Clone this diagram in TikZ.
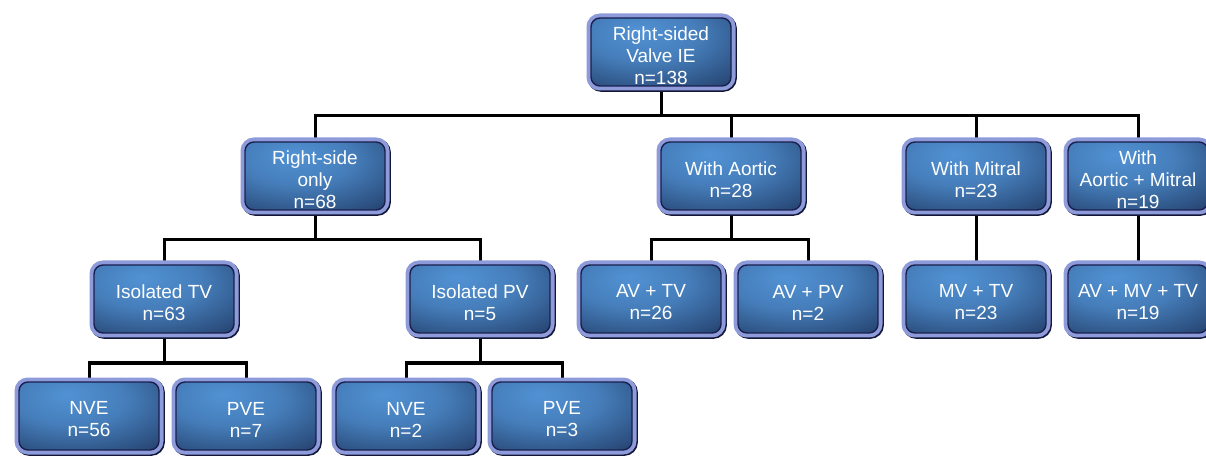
\documentclass[tikz,border=0pt]{standalone}
\usepackage{fontspec}
\setmainfont{Liberation Sans}
\usetikzlibrary{backgrounds}
\definecolor{frame}{HTML}{8E9BDB}
\definecolor{navy}{HTML}{1B1F4E}
\definecolor{hl}{HTML}{5192D4}
\definecolor{dk}{HTML}{172A50}
\pgfdeclareradialshading{boxshade}{\pgfpoint{-8bp}{16bp}}{color(0bp)=(hl);color(20bp)=(hl!80!dk);color(55bp)=(dk);color(100bp)=(dk)}
\tikzset{
  box/.style={rounded corners=9pt, minimum width=140pt, minimum height=68pt, inner sep=0pt,
    shade, shading=boxshade, draw=navy, line width=1.4pt,
    preaction={draw=navy!70!black, line width=9pt, transform canvas={shift={(1.3pt,-1.3pt)}}},
    preaction={draw=frame, line width=9pt}},
  boxtext/.style={align=center, text=white, font=\fontsize{19}{22}\selectfont, inner sep=0pt, yshift=-3.5pt},
  conn/.style={line width=3pt, black}
}
\newcommand\mybox[3]{\node[box, label={[boxtext]center:{#3}}] (#1) at (#2) {};}
\begin{document}
\begin{tikzpicture}[x=1pt,y=1pt]
\useasboundingbox (0,0) rectangle (1206,455);
\mybox{root}{661,403}{Right-sided\\Valve IE\\n=138}
\mybox{rso}{315,279}{Right-side\\only\\n=68}
\mybox{wa}{731,279}{With Aortic\\n=28}
\mybox{wm}{976,279}{With Mitral\\n=23}
\mybox{wam}{1138,279}{With\\Aortic + Mitral\\n=19}
\mybox{itv}{164,156}{Isolated TV\\n=63}
\mybox{ipv}{480,156}{Isolated PV\\n=5}
\mybox{avtv}{651,156}{AV + TV\\n=26}
\mybox{avpv}{808,156}{AV + PV\\n=2}
\mybox{mvtv}{976,156}{MV + TV\\n=23}
\mybox{avmvtv}{1138,156}{AV + MV + TV\\n=19}
\mybox{nve1}{89,39}{NVE\\n=56}
\mybox{pve1}{246,39}{PVE\\n=7}
\mybox{nve2}{406,39}{NVE\\n=2}
\mybox{pve2}{562,39}{PVE\\n=3}
\begin{pgfonlayer}{background}
\coordinate (j1) at (661,339);
\coordinate (j2) at (315,215);
\coordinate (j3) at (731,215);
\coordinate (j4) at (164,92);
\coordinate (j5) at (480,92);
\draw[conn] (root) -- (j1);
\draw[conn] (rso) |- (j1) -| (wam);
\draw[conn] (wa) -- (wa |- j1);
\draw[conn] (wm) -- (wm |- j1);
\draw[conn] (rso) -- (j2);
\draw[conn] (itv) |- (j2) -| (ipv);
\draw[conn] (wa) -- (j3);
\draw[conn] (avtv) |- (j3) -| (avpv);
\draw[conn] (wm) -- (mvtv);
\draw[conn] (wam) -- (avmvtv);
\draw[conn] (itv) -- (j4);
\draw[conn] (nve1) |- (j4) -| (pve1);
\draw[conn] (ipv) -- (j5);
\draw[conn] (nve2) |- (j5) -| (pve2);
\end{pgfonlayer}
\end{tikzpicture}
\end{document}
